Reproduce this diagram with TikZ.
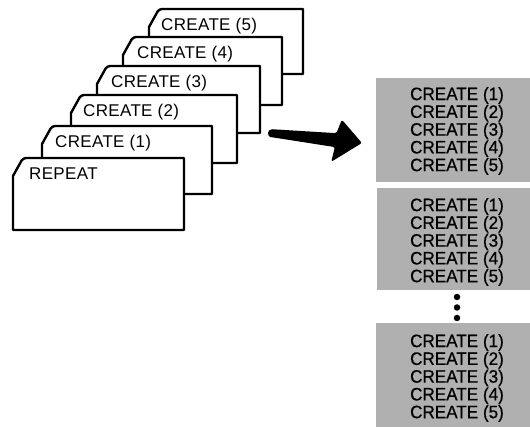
\documentclass[tikz,border=0pt]{standalone}
\usepackage{fontspec}
\setmainfont{Liberation Sans}
\newfontfamily\cardfont[LetterSpace=2]{Liberation Sans}
\newfontfamily\listfont[FakeStretch=0.95,FakeBold=0.6]{Liberation Sans}
\definecolor{screen}{rgb}{0.69,0.69,0.69}

\tikzset{
  cardedge/.style={draw=black, fill=white, line width=2.4pt, line join=round},
  cardlabel/.style={anchor=base west, inner sep=0pt,
    font=\cardfont\fontsize{17}{18}\selectfont},
  screenbox/.style={fill=screen, draw=none, anchor=north west, inner sep=0pt},
  listlabel/.style={inner sep=0pt, align=left,
    font=\listfont\fontsize{18}{16.6}\selectfont},
  bigdot/.style={circle, fill=black, inner sep=0pt, minimum size=6.5pt},
}

% chamfered card: #1 name, #2 left, #3 top, #4 right, #5 bottom, #6 label, #7 label indent
\newcommand\drawcard[7]{%
  \draw[cardedge] (#2,#5) -- (#2,#3+18)
    [rounded corners=3pt] -- (#2+10,#3) [sharp corners] -- (#4,#3) -- (#4,#5) -- cycle;
  \node[cardlabel] (#1) at (#2+#7,#3+21.5) {#6};
}

\begin{document}
\begin{tikzpicture}[x=1pt,y=-1pt]
\useasboundingbox (0,0) rectangle (530,427);

% stack of cards, back to front
\drawcard{c5}{149}{9}{303}{74}{CREATE (5)}{12}
\drawcard{c4}{123}{37}{282}{105}{CREATE (4)}{14}
\drawcard{c3}{97}{66}{260}{133}{CREATE (3)}{14}
\drawcard{c2}{71}{95}{237}{163}{CREATE (2)}{12}
\drawcard{c1}{42}{126}{212}{194}{CREATE (1)}{13}
\drawcard{rep}{13}{158}{184}{230}{REPEAT}{16}

% screened listing blocks
\node[screenbox, minimum width=154pt, minimum height=104pt] (b1) at (376,78) {};
\node[screenbox, minimum width=154pt, minimum height=102pt] (b2) at (377,188) {};
\node[screenbox, minimum width=154pt, minimum height=104pt] (b3) at (376,323) {};

\foreach \b/\y in {b1/131, b2/242, b3/378} {
  \node[listlabel] (\b txt) at (457,\y)
    {CREATE (1)\\CREATE (2)\\CREATE (3)\\CREATE (4)\\CREATE (5)};
}

% continuation dots
\node[bigdot] (d1) at (457,297) {};
\node[bigdot] (d2) at (457,307.5) {};
\node[bigdot] (d3) at (457,318) {};

% heavy block arrow from the stack to the listing
\coordinate (tail) at (270,133);
\coordinate (tip) at (362,143);
\begin{scope}[shift={(tail)}, rotate=-6.2]
  \fill[black, rounded corners=1.5pt]
    (2,-4) -- (66,-7) -- (70,-21) -- (92.5,0) -- (64,22) -- (66,7) -- (2,4)
    [sharp corners] arc[start angle=90, end angle=270, radius=4] -- cycle;
\end{scope}
\end{tikzpicture}
\end{document}
